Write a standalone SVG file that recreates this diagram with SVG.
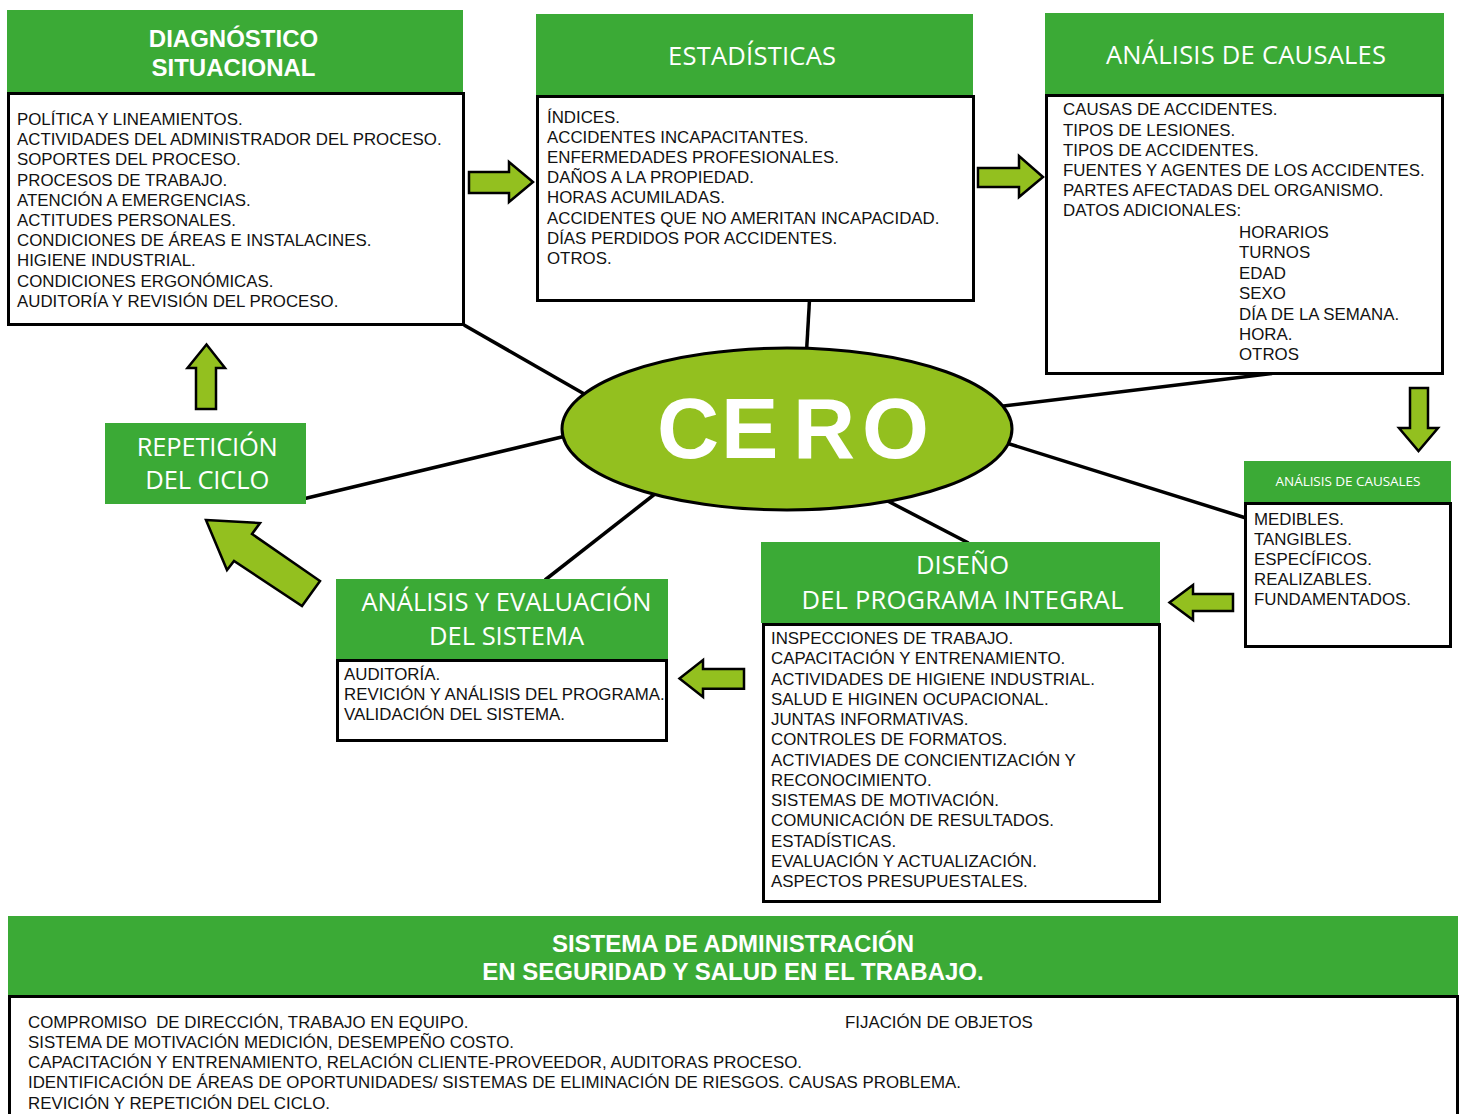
<svg xmlns="http://www.w3.org/2000/svg" width="1460" height="1114" viewBox="0 0 1460 1114">
<style>
.hdr{fill:#3BAA36}
.box{fill:#fff;stroke:#000;stroke-width:3}
.body{font-family:"Liberation Sans",Arial,sans-serif;font-size:16.85px;fill:#111}
.ttl{font-family:"Open Sans",sans-serif;font-size:25.5px;fill:#fff;text-anchor:middle}
.ttlb{font-family:"Liberation Sans",Arial,sans-serif;font-weight:bold;font-size:24px;fill:#fff;text-anchor:middle}
.arr{fill:#93C01F;stroke:#000;stroke-width:2.5;stroke-linejoin:miter}
.con{stroke:#000;stroke-width:3.5;fill:none}
</style>
<rect width="1460" height="1114" fill="#fff"/>
<g id="connectors">
<line class="con" x1="464" y1="325" x2="600" y2="403"/>
<line class="con" x1="809.5" y1="300" x2="806.5" y2="352"/>
<line class="con" x1="1272" y1="373.5" x2="995" y2="407"/>
<line class="con" x1="1246" y1="518" x2="1000" y2="441"/>
<line class="con" x1="968.5" y1="543" x2="880" y2="497"/>
<line class="con" x1="545" y1="580" x2="660" y2="490"/>
<line class="con" x1="305" y1="498.5" x2="570" y2="435"/>
</g>
<g id="arrows">
<polygon class="arr" points="469,172 509,172 509,162 533,182 509,202 509,193 469,193"/>
<polygon class="arr" points="978,168 1019,168 1019,156 1043,177 1019,197 1019,187 978,187"/>
<polygon class="arr" points="1410,388 1428,388 1428,428 1438,428 1418.5,451 1399,428 1410,428"/>
<polygon class="arr" points="1233,594 1193,594 1193,585 1169.5,602.5 1193,620 1193,611 1233,611"/>
<polygon class="arr" points="744,669 703,669 703,660 679.5,678.5 703,697 703,688.7 744,688.7"/>
<polygon class="arr" points="196,409 196,368 187.5,368 206.5,344.5 225,368 216,368 216,409"/>
<polygon class="arr" points="206,520 260,523 252,534 320,581 302,606 234,561 227,570"/>
</g>
<g id="cero">
<ellipse cx="787" cy="429" rx="225" ry="81" fill="#93C01F" stroke="#000" stroke-width="3"/>
<text x="657 721 793 862" y="458" font-family="'Liberation Sans',Arial,sans-serif" font-weight="bold" font-size="86" fill="#fff">CERO</text>
</g>
<g id="diagnostico">
<rect class="hdr" x="7" y="10" width="456" height="82"/>
<rect class="box" x="8.5" y="93.5" width="455" height="231"/>
<text class="ttlb" x="233.5" y="47.3">DIAGNÓSTICO</text>
<text class="ttlb" x="233.5" y="76">SITUACIONAL</text>
<text class="body">
<tspan x="17" y="125">POLÍTICA Y LINEAMIENTOS.</tspan>
<tspan x="17" y="145.2">ACTIVIDADES DEL ADMINISTRADOR DEL PROCESO.</tspan>
<tspan x="17" y="165.4">SOPORTES DEL PROCESO.</tspan>
<tspan x="17" y="185.6">PROCESOS DE TRABAJO.</tspan>
<tspan x="17" y="205.8">ATENCIÓN A EMERGENCIAS.</tspan>
<tspan x="17" y="226">ACTITUDES PERSONALES.</tspan>
<tspan x="17" y="246.2">CONDICIONES DE ÁREAS E INSTALACINES.</tspan>
<tspan x="17" y="266.4">HIGIENE INDUSTRIAL.</tspan>
<tspan x="17" y="286.6">CONDICIONES ERGONÓMICAS.</tspan>
<tspan x="17" y="306.8">AUDITORÍA Y REVISIÓN DEL PROCESO.</tspan>
</text>
</g>
<g id="estadisticas">
<rect class="hdr" x="536" y="14" width="437" height="81"/>
<rect class="box" x="537.5" y="96.5" width="436" height="204"/>
<text class="ttl" x="752" y="65" textLength="168">ESTADÍSTICAS</text>
<text class="body">
<tspan x="547" y="123">ÍNDICES.</tspan>
<tspan x="547" y="143.1">ACCIDENTES INCAPACITANTES.</tspan>
<tspan x="547" y="163.2">ENFERMEDADES PROFESIONALES.</tspan>
<tspan x="547" y="183.3">DAÑOS A LA PROPIEDAD.</tspan>
<tspan x="547" y="203.4">HORAS ACUMILADAS.</tspan>
<tspan x="547" y="223.5">ACCIDENTES QUE NO AMERITAN INCAPACIDAD.</tspan>
<tspan x="547" y="243.6">DÍAS PERDIDOS POR ACCIDENTES.</tspan>
<tspan x="547" y="263.7">OTROS.</tspan>
</text>
</g>
<g id="analisis-causales">
<rect class="hdr" x="1045" y="13" width="399" height="81"/>
<rect class="box" x="1046.5" y="95.5" width="396" height="278"/>
<text class="ttl" x="1246" y="64" textLength="280">ANÁLISIS DE CAUSALES</text>
<text class="body">
<tspan x="1063" y="115.3">CAUSAS DE ACCIDENTES.</tspan>
<tspan x="1063" y="135.5">TIPOS DE LESIONES.</tspan>
<tspan x="1063" y="155.7">TIPOS DE ACCIDENTES.</tspan>
<tspan x="1063" y="175.9">FUENTES Y AGENTES DE LOS ACCIDENTES.</tspan>
<tspan x="1063" y="196.1">PARTES AFECTADAS DEL ORGANISMO.</tspan>
<tspan x="1063" y="216.3">DATOS ADICIONALES:</tspan>
<tspan x="1239" y="238">HORARIOS</tspan>
<tspan x="1239" y="258.4">TURNOS</tspan>
<tspan x="1239" y="278.8">EDAD</tspan>
<tspan x="1239" y="299.2">SEXO</tspan>
<tspan x="1239" y="319.6">DÍA DE LA SEMANA.</tspan>
<tspan x="1239" y="340">HORA.</tspan>
<tspan x="1239" y="360.4">OTROS</tspan>
</text>
</g>
<g id="analisis-causales-2">
<rect class="hdr" x="1244" y="461" width="207" height="41"/>
<rect class="box" x="1245.5" y="503.5" width="205" height="143"/>
<text class="ttl" x="1348" y="486" style="font-size:13.5px" textLength="145">ANÁLISIS DE CAUSALES</text>
<text class="body">
<tspan x="1254" y="524.7">MEDIBLES.</tspan>
<tspan x="1254" y="544.8">TANGIBLES.</tspan>
<tspan x="1254" y="564.9">ESPECÍFICOS.</tspan>
<tspan x="1254" y="585">REALIZABLES.</tspan>
<tspan x="1254" y="605.2">FUNDAMENTADOS.</tspan>
</text>
</g>
<g id="diseno">
<rect class="hdr" x="761" y="542" width="399" height="81"/>
<rect class="box" x="763.5" y="624.5" width="396" height="277"/>
<text class="ttl" x="962.5" y="574" textLength="93">DISEÑO</text>
<text class="ttl" x="962.5" y="609" textLength="322">DEL PROGRAMA INTEGRAL</text>
<text class="body">
<tspan x="771" y="644">INSPECCIONES DE TRABAJO.</tspan>
<tspan x="771" y="664.25">CAPACITACIÓN Y ENTRENAMIENTO.</tspan>
<tspan x="771" y="684.5">ACTIVIDADES DE HIGIENE INDUSTRIAL.</tspan>
<tspan x="771" y="704.75">SALUD E HIGINEN OCUPACIONAL.</tspan>
<tspan x="771" y="725">JUNTAS INFORMATIVAS.</tspan>
<tspan x="771" y="745.25">CONTROLES DE FORMATOS.</tspan>
<tspan x="771" y="765.5">ACTIVIADES DE CONCIENTIZACIÓN Y</tspan>
<tspan x="771" y="785.75">RECONOCIMIENTO.</tspan>
<tspan x="771" y="806">SISTEMAS DE MOTIVACIÓN.</tspan>
<tspan x="771" y="826.25">COMUNICACIÓN DE RESULTADOS.</tspan>
<tspan x="771" y="846.5">ESTADÍSTICAS.</tspan>
<tspan x="771" y="866.75">EVALUACIÓN Y ACTUALIZACIÓN.</tspan>
<tspan x="771" y="887">ASPECTOS PRESUPUESTALES.</tspan>
</text>
</g>
<g id="analisis-evaluacion">
<rect class="hdr" x="336" y="579" width="332" height="80"/>
<rect class="box" x="337.5" y="660.5" width="329" height="80"/>
<text class="ttl" x="506.5" y="610.5" textLength="290">ANÁLISIS Y EVALUACIÓN</text>
<text class="ttl" x="506.5" y="644.5" textLength="155">DEL SISTEMA</text>
<text class="body">
<tspan x="344" y="679.5">AUDITORÍA.</tspan>
<tspan x="344" y="699.7">REVICIÓN Y ANÁLISIS DEL PROGRAMA.</tspan>
<tspan x="344" y="719.9">VALIDACIÓN DEL SISTEMA.</tspan>
</text>
</g>
<g id="repeticion">
<rect class="hdr" x="105" y="423" width="201" height="81"/>
<text class="ttl" x="207.3" y="456" textLength="141">REPETICIÓN</text>
<text class="ttl" x="207.3" y="489" textLength="124">DEL CICLO</text>
</g>
<g id="sistema">
<rect class="hdr" x="8" y="916" width="1450" height="79"/>
<rect class="box" x="9.5" y="996.5" width="1448" height="130"/>
<text class="ttlb" x="733" y="952">SISTEMA DE ADMINISTRACIÓN</text>
<text class="ttlb" x="733" y="980">EN SEGURIDAD Y SALUD EN EL TRABAJO.</text>
<text class="body" xml:space="preserve">
<tspan x="28" y="1027.5">COMPROMISO  DE DIRECCIÓN, TRABAJO EN EQUIPO.</tspan>
<tspan x="28" y="1047.8">SISTEMA DE MOTIVACIÓN MEDICIÓN, DESEMPEÑO COSTO.</tspan>
<tspan x="28" y="1068">CAPACITACIÓN Y ENTRENAMIENTO, RELACIÓN CLIENTE-PROVEEDOR, AUDITORAS PROCESO.</tspan>
<tspan x="28" y="1088.3">IDENTIFICACIÓN DE ÁREAS DE OPORTUNIDADES/ SISTEMAS DE ELIMINACIÓN DE RIESGOS. CAUSAS PROBLEMA.</tspan>
<tspan x="28" y="1108.5">REVICIÓN Y REPETICIÓN DEL CICLO.</tspan>
<tspan x="845" y="1027.5">FIJACIÓN DE OBJETOS</tspan>
</text>
</g>
</svg>
